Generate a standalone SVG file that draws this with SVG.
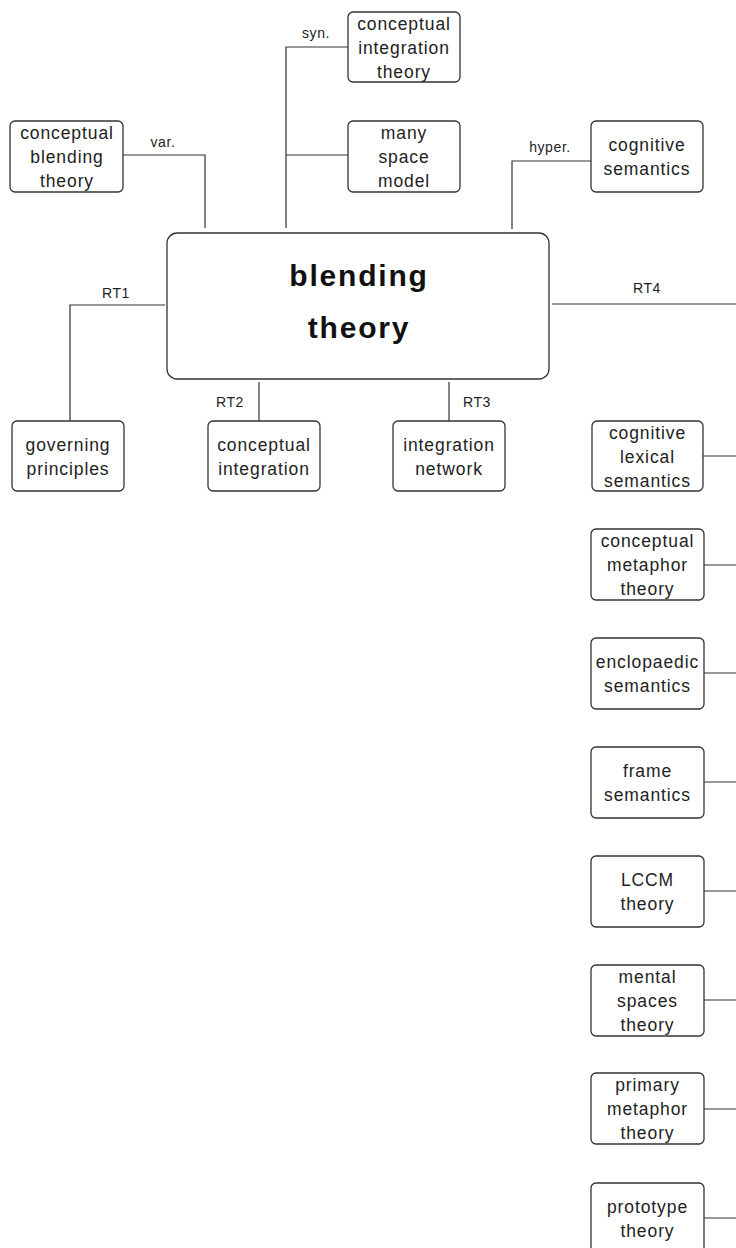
<svg xmlns="http://www.w3.org/2000/svg" width="736" height="1248" viewBox="0 0 736 1248">
<style>
.box{fill:#fff;stroke:#333;stroke-width:1.3}
.t{font-family:"Liberation Sans",Arial,sans-serif;font-size:17.5px;fill:#222;text-anchor:middle;letter-spacing:0.9px}
.title{font-family:"Liberation Sans",Arial,sans-serif;font-size:30px;font-weight:bold;fill:#111;text-anchor:middle;letter-spacing:1.8px}
.lbl{font-family:"Liberation Sans",Arial,sans-serif;font-size:14px;fill:#222;text-anchor:middle;letter-spacing:0.6px}
.c{fill:none;stroke:#333;stroke-width:1.2}
</style>
<rect width="736" height="1248" fill="#fff"/>
<g id="connectors">
<polyline class="c" points="123,155 205,155 205,228"/>
<text class="lbl" x="163" y="147">var.</text>
<polyline class="c" points="348,47 286,47 286,228"/>
<line class="c" x1="286" y1="155" x2="348" y2="155"/>
<text class="lbl" x="316" y="38">syn.</text>
<polyline class="c" points="591,161 512,161 512,229"/>
<text class="lbl" x="550" y="152">hyper.</text>
<polyline class="c" points="165,305 70,305 70,421"/>
<text class="lbl" x="116" y="298">RT1</text>
<line class="c" x1="259" y1="382" x2="259" y2="421"/>
<text class="lbl" x="230" y="407">RT2</text>
<line class="c" x1="449" y1="382" x2="449" y2="421"/>
<text class="lbl" x="477" y="407">RT3</text>
<line class="c" x1="552" y1="304" x2="740" y2="304"/>
<text class="lbl" x="647" y="293">RT4</text>
<line class="c" x1="703" y1="456" x2="740" y2="456"/>
<line class="c" x1="703" y1="565" x2="740" y2="565"/>
<line class="c" x1="703" y1="673" x2="740" y2="673"/>
<line class="c" x1="703" y1="782" x2="740" y2="782"/>
<line class="c" x1="703" y1="891" x2="740" y2="891"/>
<line class="c" x1="703" y1="1000" x2="740" y2="1000"/>
<line class="c" x1="703" y1="1109" x2="740" y2="1109"/>
<line class="c" x1="703" y1="1218" x2="740" y2="1218"/>
</g>
<g id="blending-theory">
<rect class="box" x="167" y="233" width="382" height="146" rx="10"/>
<text class="title" x="359" y="286">blending</text>
<text class="title" x="359" y="338">theory</text>
</g>
<g id="conceptual-blending-theory">
<rect class="box" x="10" y="121" width="113" height="71" rx="5"/>
<text class="t" x="67" y="139">conceptual</text>
<text class="t" x="67" y="163">blending</text>
<text class="t" x="67" y="187">theory</text>
</g>
<g id="conceptual-integration-theory">
<rect class="box" x="348" y="12" width="112" height="70" rx="5"/>
<text class="t" x="404" y="30">conceptual</text>
<text class="t" x="404" y="54">integration</text>
<text class="t" x="404" y="78">theory</text>
</g>
<g id="many-space-model">
<rect class="box" x="348" y="121" width="112" height="71" rx="5"/>
<text class="t" x="404" y="139">many</text>
<text class="t" x="404" y="163">space</text>
<text class="t" x="404" y="187">model</text>
</g>
<g id="cognitive-semantics">
<rect class="box" x="591" y="121" width="112" height="71" rx="5"/>
<text class="t" x="647" y="151">cognitive</text>
<text class="t" x="647" y="175">semantics</text>
</g>
<g id="governing-principles">
<rect class="box" x="12" y="421" width="112" height="70" rx="5"/>
<text class="t" x="68" y="451">governing</text>
<text class="t" x="68" y="475">principles</text>
</g>
<g id="conceptual-integration">
<rect class="box" x="208" y="421" width="112" height="70" rx="5"/>
<text class="t" x="264" y="451">conceptual</text>
<text class="t" x="264" y="475">integration</text>
</g>
<g id="integration-network">
<rect class="box" x="393" y="421" width="112" height="70" rx="5"/>
<text class="t" x="449" y="451">integration</text>
<text class="t" x="449" y="475">network</text>
</g>
<g id="cognitive-lexical-semantics">
<rect class="box" x="592" y="421" width="111" height="70" rx="5"/>
<text class="t" x="647.5" y="439">cognitive</text>
<text class="t" x="647.5" y="463">lexical</text>
<text class="t" x="647.5" y="487">semantics</text>
</g>
<g id="conceptual-metaphor-theory">
<rect class="box" x="591" y="529" width="113" height="71" rx="5"/>
<text class="t" x="647.5" y="547">conceptual</text>
<text class="t" x="647.5" y="571">metaphor</text>
<text class="t" x="647.5" y="595">theory</text>
</g>
<g id="enclopaedic-semantics">
<rect class="box" x="591" y="638" width="113" height="71" rx="5"/>
<text class="t" x="647.5" y="668">enclopaedic</text>
<text class="t" x="647.5" y="692">semantics</text>
</g>
<g id="frame-semantics">
<rect class="box" x="591" y="747" width="113" height="71" rx="5"/>
<text class="t" x="647.5" y="777">frame</text>
<text class="t" x="647.5" y="801">semantics</text>
</g>
<g id="lccm-theory">
<rect class="box" x="591" y="856" width="113" height="71" rx="5"/>
<text class="t" x="647.5" y="886">LCCM</text>
<text class="t" x="647.5" y="910">theory</text>
</g>
<g id="mental-spaces-theory">
<rect class="box" x="591" y="965" width="113" height="71" rx="5"/>
<text class="t" x="647.5" y="983">mental</text>
<text class="t" x="647.5" y="1007">spaces</text>
<text class="t" x="647.5" y="1031">theory</text>
</g>
<g id="primary-metaphor-theory">
<rect class="box" x="591" y="1073" width="113" height="71" rx="5"/>
<text class="t" x="647.5" y="1091">primary</text>
<text class="t" x="647.5" y="1115">metaphor</text>
<text class="t" x="647.5" y="1139">theory</text>
</g>
<g id="prototype-theory">
<rect class="box" x="591" y="1183" width="113" height="71" rx="5"/>
<text class="t" x="647.5" y="1213">prototype</text>
<text class="t" x="647.5" y="1237">theory</text>
</g>
</svg>
